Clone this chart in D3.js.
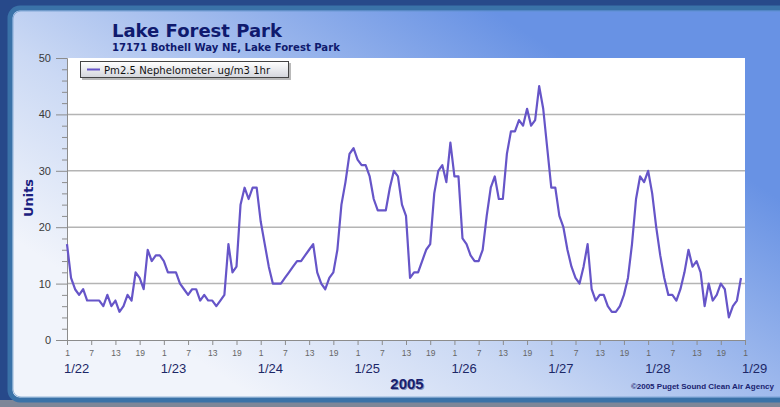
<!DOCTYPE html>
<html><head><meta charset="utf-8">
<script src="https://cdn.jsdelivr.net/npm/d3@7"></script>
<style>html,body{margin:0;padding:0;background:#27498a;overflow:hidden}svg{display:block}</style>
</head><body>
<script>
// ---- data ----
const title = "Lake Forest Park";
const subtitle = "17171 Bothell Way NE, Lake Forest Park";
const seriesName = "Pm2.5 Nephelometer- ug/m3 1hr";
const dayLabels = ["1/22","1/23","1/24","1/25","1/26","1/27","1/28","1/29"];
const hourLabels = ["1","7","13","19"];
const yTicks = [0,10,20,30,40,50];
const yearLabel = "2005";
const yTitle = "Units";
const credit = "\u00A92005 Puget Sound Clean Air Agency";
// hourly PM2.5 values, starting 1/22 hour 1
const pm25 = [
 17,11,9,8,9,7,7,7,7,6,
 8,6,7,5,6,8,7,12,11,9,
 16,14,15,15,14,12,12,12,10,9,
 8,9,9,7,8,7,7,6,7,8,
 17,12,13,24,27,25,27,27,21,17,
 13,10,10,10,11,12,13,14,14,15,
 16,17,12,10,9,11,12,16,24,28,
 33,34,32,31,31,29,25,23,23,23,
 27,30,29,24,22,11,12,12,14,16,
 17,26,30,31,28,35,29,29,18,17,
 15,14,14,16,22,27,29,25,25,33,
 37,37,39,38,41,38,39,45,41,34,
 27,27,22,20,16,13,11,10,13,17,
 9,7,8,8,6,5,5,6,8,11,
 17,25,29,28,30,26,20,15,11,8,
 8,7,9,12,16,13,14,12,6,10,
 7,8,10,9,4,6,7,11
];

const W = 780, H = 407;
const svg = d3.select("body").append("svg").attr("width", W).attr("height", H);
const defs = svg.append("defs");

const bg = defs.append("linearGradient").attr("id","bg").attr("gradientUnits","userSpaceOnUse")
  .attr("x1",250).attr("y1",395).attr("x2",500).attr("y2",15);
bg.append("stop").attr("offset",0).attr("stop-color","#f1f4fb");
bg.append("stop").attr("offset",0.35).attr("stop-color","#cbd9f4");
bg.append("stop").attr("offset",1).attr("stop-color","#6892e4");

const lg = defs.append("linearGradient").attr("id","lg").attr("x1",0).attr("y1",0).attr("x2",0).attr("y2",1);
lg.append("stop").attr("offset",0).attr("stop-color","#ffffff");
lg.append("stop").attr("offset",1).attr("stop-color","#d4d6dc");

// outer frame
svg.append("rect").attr("x",0).attr("y",400).attr("width",W).attr("height",7).attr("fill","#7d8698");
svg.append("rect").attr("x",10).attr("y",8).attr("width",W+20).attr("height",392)
  .attr("rx",10).attr("fill","url(#bg)").attr("stroke","#3a72a8").attr("stroke-width",5);
svg.append("rect").attr("x",13).attr("y",11).attr("width",W+20).attr("height",386)
  .attr("rx",8).attr("fill","none").attr("stroke","#5b8fc4").attr("stroke-width",1).attr("opacity",0.6);

// plot area
const x0 = 67, x1 = 745, yTop = 58, yBot = 340;
const x = d3.scaleLinear().domain([0, 168]).range([x0, x1]);
const y = d3.scaleLinear().domain([0, 50]).range([yBot, yTop]);

svg.append("rect").attr("x",x0).attr("y",yTop).attr("width",x1-x0).attr("height",yBot-yTop).attr("fill","#ffffff");

// grid
svg.append("g").selectAll("line").data(yTicks.filter(d=>d>0 && d<50)).join("line")
  .attr("x1",x0).attr("x2",x1).attr("y1",d=>y(d)).attr("y2",d=>y(d))
  .attr("stroke","#b4b4b4").attr("stroke-width",1.5);

// y axis
const yAx = svg.append("g").attr("transform",`translate(${x0},0)`)
  .call(d3.axisLeft(y).tickValues(yTicks).tickSize(11).tickPadding(5).tickFormat(d3.format("d")));
yAx.select(".domain").attr("stroke","#8c8c8c");
yAx.selectAll(".tick line").attr("stroke","#8c8c8c");
yAx.selectAll("text").attr("fill","#3a3a3a").attr("font-family","Liberation Sans, Arial, sans-serif").attr("font-size",11);
const yMinor = svg.append("g").attr("transform",`translate(${x0},0)`)
  .call(d3.axisLeft(y).tickValues(d3.range(0,51,2).filter(d=>d%10)).tickSize(5).tickFormat(""));
yMinor.select(".domain").remove();
yMinor.selectAll(".tick line").attr("stroke","#8c8c8c");

// x axis
const xAx = svg.append("g").attr("transform",`translate(0,${yBot})`)
  .call(d3.axisBottom(x).tickValues(d3.range(0,169,6)).tickSize(5).tickPadding(5)
    .tickFormat(d => hourLabels[(d/6)%4]));
xAx.select(".domain").attr("stroke","#8c8c8c");
xAx.selectAll(".tick line").attr("stroke","#8c8c8c");
xAx.selectAll("text").attr("fill","#666").attr("font-family","Liberation Sans, Arial, sans-serif").attr("font-size",8.5);

svg.append("g").selectAll("text").data(dayLabels).join("text")
  .attr("x",(d,i)=>x(i*24)-3).attr("y",373)
  .attr("font-family","Liberation Sans, Arial, sans-serif").attr("font-size",13)
  .attr("fill","#1c2767").text(d=>d);

// line
svg.append("path").datum(pm25)
  .attr("d", d3.line().x((d,i)=>x(i)).y(d=>y(d)))
  .attr("fill","none").attr("stroke","#6655c8").attr("stroke-width",2.2).attr("stroke-linejoin","round");

// legend
svg.append("rect").attr("x",82).attr("y",63).attr("width",209).attr("height",17).attr("fill","#8a8a8a").attr("opacity",0.6);
svg.append("rect").attr("x",80.5).attr("y",61.5).attr("width",208).attr("height",16)
  .attr("fill","url(#lg)").attr("stroke","#444").attr("stroke-width",1);
svg.append("line").attr("x1",87).attr("x2",100).attr("y1",69.5).attr("y2",69.5)
  .attr("stroke","#6655c8").attr("stroke-width",2);
svg.append("text").attr("x",104).attr("y",73.5).attr("font-family","DejaVu Sans, Verdana, sans-serif")
  .attr("font-size",10.1).attr("fill","#111").text(seriesName);

// titles
svg.append("text").attr("x",112).attr("y",37).attr("font-family","DejaVu Sans, Verdana, sans-serif")
  .attr("font-weight","bold").attr("font-size",18).attr("fill","#0f1a6e").text(title);
svg.append("text").attr("x",112).attr("y",51).attr("font-family","DejaVu Sans, Verdana, sans-serif")
  .attr("font-weight","bold").attr("font-size",10.1).attr("fill","#0f1a6e").text(subtitle);

svg.append("text").attr("transform","translate(33,198) rotate(-90)").attr("text-anchor","middle")
  .attr("font-family","DejaVu Sans, Verdana, sans-serif").attr("font-weight","bold").attr("font-size",13)
  .attr("fill","#1a2080").text(yTitle);

svg.append("text").attr("x",407).attr("y",388.5).attr("text-anchor","middle")
  .attr("font-family","Liberation Sans, Arial, sans-serif").attr("font-weight","bold").attr("font-size",15)
  .attr("fill","#8a94b8").attr("dx",1).attr("dy",1).text(yearLabel);
svg.append("text").attr("x",407).attr("y",388.5).attr("text-anchor","middle")
  .attr("font-family","Liberation Sans, Arial, sans-serif").attr("font-weight","bold").attr("font-size",15)
  .attr("fill","#17206e").text(yearLabel);

svg.append("text").attr("x",774).attr("y",389).attr("text-anchor","end")
  .attr("font-family","Liberation Sans, Arial, sans-serif").attr("font-weight","bold").attr("font-size",8)
  .attr("fill","#1a2370").text(credit);
</script>
</body></html>
